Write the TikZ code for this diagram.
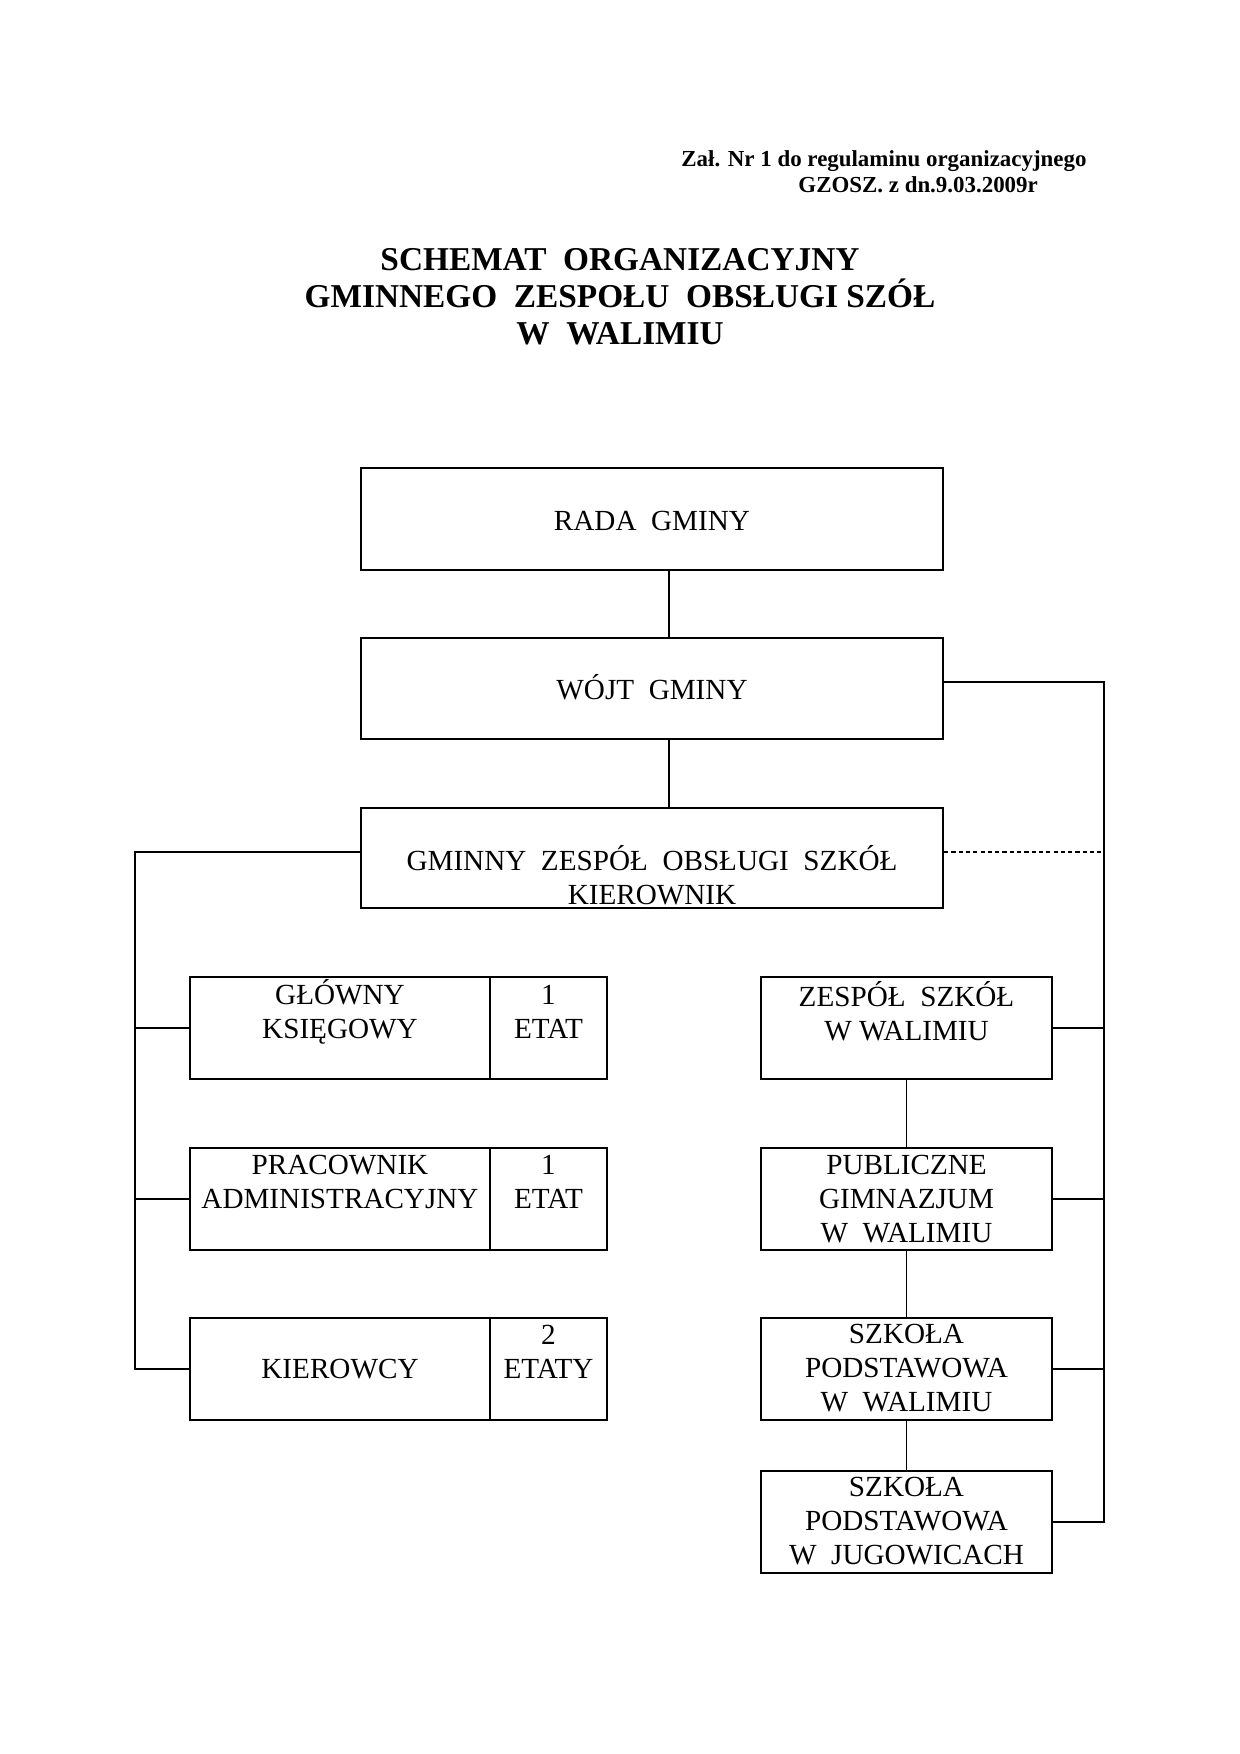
\documentclass[tikz,border=0pt]{standalone}
\usepackage{fontspec}
\setmainfont{Liberation Serif}
\begin{document}
\begin{tikzpicture}[x=0.48pt,y=-0.48pt,
  box/.style={draw,line width=1.1pt,inner sep=0pt,minimum height=#1*0.48pt},
  box/.default=102,
  txt/.style={font=\fontsize{14}{16.3}\selectfont,align=center,inner sep=0pt},
  hdr/.style={font=\fontsize{11}{13}\selectfont\bfseries,inner sep=0pt},
  ttl/.style={font=\fontsize{16}{18}\selectfont\bfseries,inner sep=0pt,anchor=base},
  trunk/.style={line width=1pt},
  thin/.style={line width=0.6pt}]
\useasboundingbox (0,0) rectangle (1240,1754);
% header
\node[hdr,anchor=base west] (h1) at (681,166) {Zał. Nr 1 do regulaminu organizacyjnego};
\node[hdr,anchor=base west] (h2) at (798,192) {GZOSZ. z dn.9.03.2009r};
\node[ttl] (t1) at (620,270) {SCHEMAT~ ORGANIZACYJNY};
\node[ttl] (t2) at (620,307) {GMINNEGO~ ZESPOŁU~ OBSŁUGI SZÓŁ};
\node[ttl] (t3) at (620,344) {W~ WALIMIU};
% top boxes
\node[box,minimum width=582*0.48pt] (rada) at (652,519) {};
\node[txt] (radat) at (652,521) {RADA~ GMINY};
\node[box=101,minimum width=582*0.48pt] (wojt) at (652,688.5) {};
\node[txt] (wojtt) at (652,687) {WÓJT~ GMINY};
\node[box=100,minimum width=582*0.48pt] (gzos) at (652,858) {};
\node[txt] (gzost) at (652,875) {GMINNY~ ZESPÓŁ~ OBSŁUGI~ SZKÓŁ\\KIEROWNIK};
% left boxes
\node[box,minimum width=300*0.48pt] (kg) at (340,1028) {};
\node[box,minimum width=117*0.48pt] (kge) at (548.5,1028) {};
\node[txt] (kgt) at (340,1011.5) {GŁÓWNY\\KSIĘGOWY};
\node[txt] (kget) at (548.5,1011.5) {1\\ETAT};
\node[box,minimum width=300*0.48pt] (pa) at (340,1199) {};
\node[box,minimum width=117*0.48pt] (pae) at (548.5,1199) {};
\node[txt] (pat) at (340,1182) {PRACOWNIK\\ADMINISTRACYJNY};
\node[txt] (paet) at (548.5,1182) {1\\ETAT};
\node[box,minimum width=300*0.48pt] (ki) at (340,1369) {};
\node[box,minimum width=117*0.48pt] (kie) at (548.5,1369) {};
\node[txt] (kit) at (340,1369) {KIEROWCY};
\node[txt] (kiet) at (548.5,1352) {2\\ETATY};
% right boxes
\node[box,minimum width=291*0.48pt] (zs) at (906.5,1028) {};
\node[txt] (zst) at (906.5,1011.5) {ZESPÓŁ~ SZKÓŁ\\W WALIMIU};
\node[box,minimum width=291*0.48pt] (pg) at (906.5,1199) {};
\node[txt] (pgt) at (906.5,1199) {PUBLICZNE\\GIMNAZJUM\\W~ WALIMIU};
\node[box,minimum width=291*0.48pt] (spw) at (906.5,1369) {};
\node[txt] (spwt) at (906.5,1368.5) {SZKOŁA\\PODSTAWOWA\\W~ WALIMIU};
\node[box,minimum width=291*0.48pt] (spj) at (906.5,1522) {};
\node[txt] (spjt) at (906.5,1521.5) {SZKOŁA\\PODSTAWOWA\\W~ JUGOWICACH};
% coordinates
\coordinate (vx) at (669,0);
\coordinate (lt) at (135,852);
\coordinate (rt) at (1104,682);
% connectors
\draw[thin] (rada.south -| vx) -- (wojt.north -| vx);
\draw[thin] (wojt.south -| vx) -- (gzos.north -| vx);
\draw[trunk] (lt -| gzos.west) -- (lt) -- (lt |- ki.west) -- (ki.west);
\draw[trunk] (lt |- kg.west) -- (kg.west);
\draw[trunk] (lt |- pa.west) -- (pa.west);
\draw[trunk] (rt -| wojt.east) -- (rt) -- (rt |- spj.east) -- (spj.east);
\draw[trunk] (rt |- zs.east) -- (zs.east);
\draw[trunk] (rt |- pg.east) -- (pg.east);
\draw[trunk] (rt |- spw.east) -- (spw.east);
\draw[thin,dashed,dash pattern=on 2pt off 1.5pt] (lt -| gzos.east) -- (lt -| rt);
\draw[thin] (zs.south) -- (pg.north);
\draw[thin] (pg.south) -- (spw.north);
\draw[thin] (spw.south) -- (spj.north);
\end{tikzpicture}
\end{document}
